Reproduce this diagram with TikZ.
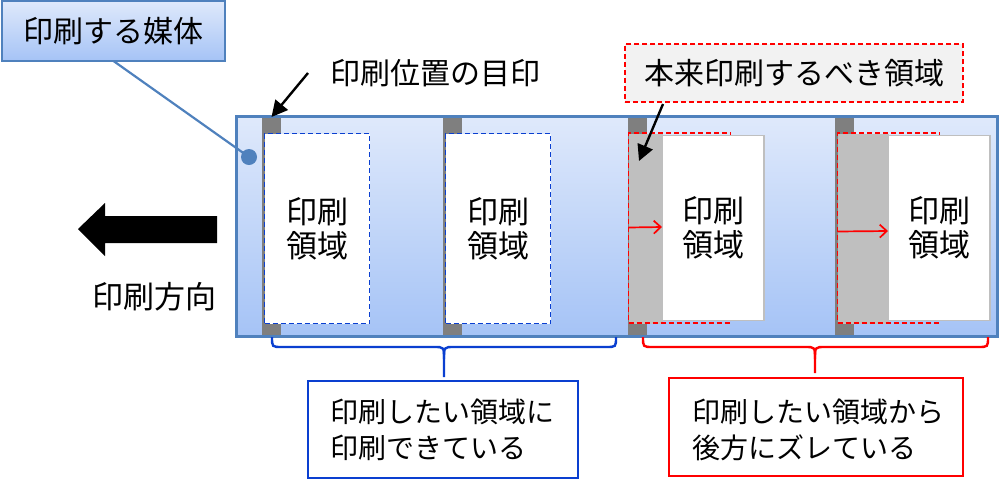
\documentclass[tikz,border=0pt]{standalone}
\usepackage{fontspec}
\setmainfont{Noto Sans CJK JP}
\usetikzlibrary{arrows.meta}
\definecolor{medtop}{HTML}{DFE9FB}
\definecolor{medbot}{HTML}{A5C3F6}
\definecolor{medline}{HTML}{4F81BD}
\definecolor{markgray}{HTML}{7F7F7F}
\definecolor{shiftgray}{HTML}{BFBFBF}
\definecolor{okblue}{HTML}{0A3FD0}
\definecolor{ngred}{HTML}{FF0000}
\definecolor{boxgray}{HTML}{F2F2F2}
\tikzset{
  base/.style={inner sep=0pt, outer sep=0pt, anchor=north west},
  medium/.style={base, top color=medtop, bottom color=medbot, draw=none},
  mediumline/.style={draw=medline, line width=2.2pt},
  markbar/.style={base, fill=markgray, minimum width=19pt, minimum height=219pt},
  okarea/.style={base, fill=white, draw=okblue, line width=1.8pt, dash pattern=on 5pt off 3pt, minimum width=105pt, minimum height=190pt},
  shiftarea/.style={base, fill=shiftgray, minimum height=190pt},
  ngarea/.style={base, draw=ngred, line width=1.8pt, dash pattern=on 5pt off 3pt, minimum width=102pt, minimum height=190pt},
  printed/.style={base, fill=white, draw=shiftgray, line width=1.6pt, minimum width=102pt, minimum height=185pt},
  areatext/.style={inner sep=0pt, align=center, font=\fontsize{31}{34}\selectfont},
  notetext/.style={anchor=west, inner sep=0pt, align=left, font=\fontsize{28}{36}\selectfont},
  callout/.style={base, top color=medtop, bottom color=medbot, draw=medline, line width=2.2pt},
  notebox/.style={base, fill=white, line width=2.2pt},
  ptr/.style={-{Triangle[length=16pt,width=16pt]}, line width=2.4pt, black},
  shiftarrow/.style={-{Straight Barb[length=7pt,width=13pt]}, line width=1.7pt, ngred},
  bracepath/.style={line width=2.4pt}
}
\begin{document}
\begin{tikzpicture}[x=1pt,y=-1pt, font=\fontsize{30}{36}\selectfont]
\useasboundingbox (0,0) rectangle (1000,480);

% medium
\node[medium, minimum width=761pt, minimum height=220pt] (medium) at (236.5,116.5) {};
\node[markbar] (m1) at (262,117) {};
\node[markbar] (m2) at (443,117) {};
\node[markbar] (m3) at (628,117) {};
\node[markbar] (m4) at (835,117) {};
\draw[mediumline] (medium.north west) rectangle (medium.south east);

% correct areas
\node[okarea] (ok1) at (264.5,133.5) {};
\node[areatext] at (ok1.center) {印刷\\領域};
\node[okarea] (ok2) at (445.5,133.5) {};
\node[areatext] at (ok2.center) {印刷\\領域};

% shifted areas
\node[shiftarea, minimum width=34pt] (g3) at (628.5,133.5) {};
\node[ngarea] (r3) at (628.5,133) {};
\node[printed] (w3) at (662,135.5) {};
\node[areatext] at (w3.center) {印刷\\領域};
\draw[shiftarrow] ([yshift=1pt]g3.west) -- ([yshift=1pt]w3.west);

\node[shiftarea, minimum width=51pt] (g4) at (837.5,133.5) {};
\node[ngarea] (r4) at (837.5,133) {};
\node[printed] (w4) at (888,135.5) {};
\node[areatext] at (w4.center) {印刷\\領域};
\draw[shiftarrow] ([yshift=-3pt]g4.west) -- ([yshift=-3pt]w4.west);

% callout "medium"
\node[callout, minimum width=223pt, minimum height=60pt] (lbl) at (2,1) {};
\node at (lbl.center) {印刷する媒体};
\node[circle, fill=medline, inner sep=0pt, minimum size=16pt] (dot) at (249,157) {};
\draw[medline, line width=2.2pt] (lbl.south) -- (dot.center);

% mark label
\node[anchor=west, inner sep=0pt] (marklbl) at (330,73) {印刷位置の目印};
\coordinate (a1) at (308,73);
\draw[ptr] (a1) -- (m1.north);

% intended area label
\node[base, fill=boxgray, draw=ngred, line width=1.8pt, dash pattern=on 5pt off 3pt, minimum width=338pt, minimum height=58pt] (intend) at (625,44) {};
\node at (intend.center) {本来印刷するべき領域};
\coordinate (a2s) at (663,104);
\coordinate (a2e) at (639,161);
\draw[ptr] (a2s) -- (a2e);

% print direction
\fill[black] (78,229) -- (105,203) -- (105,216) -- (217,216) -- (217,243) -- (105,243) -- (105,256) -- cycle;
\node[inner sep=0pt, font=\fontsize{31}{36}\selectfont] (dirlbl) at (154,297) {印刷方向};

% braces
\coordinate (bt1) at (444,377);
\draw[bracepath, okblue] (272,337) .. controls (272,347) .. (282,347) -- (434,347) .. controls (444,347) .. (444,359) -- (bt1);
\draw[bracepath, okblue] (616,337) .. controls (616,347) .. (606,347) -- (454,347) .. controls (444,347) .. (444,359);
\coordinate (bt2) at (815,373);
\draw[bracepath, ngred] (643,337) .. controls (643,347) .. (653,347) -- (805,347) .. controls (815,347) .. (815,359) -- (bt2);
\draw[bracepath, ngred] (988,337) .. controls (988,347) .. (978,347) -- (825,347) .. controls (815,347) .. (815,359);

% note boxes
\node[notebox, draw=okblue, minimum width=270pt, minimum height=97pt] (okbox) at (308,381) {};
\node[notetext] at (330,430) {印刷したい領域に\\印刷できている};
\node[notebox, draw=ngred, minimum width=294pt, minimum height=98pt] (ngbox) at (669,378) {};
\node[notetext] at (692,430) {印刷したい領域から\\後方にズレている};
\end{tikzpicture}
\end{document}
